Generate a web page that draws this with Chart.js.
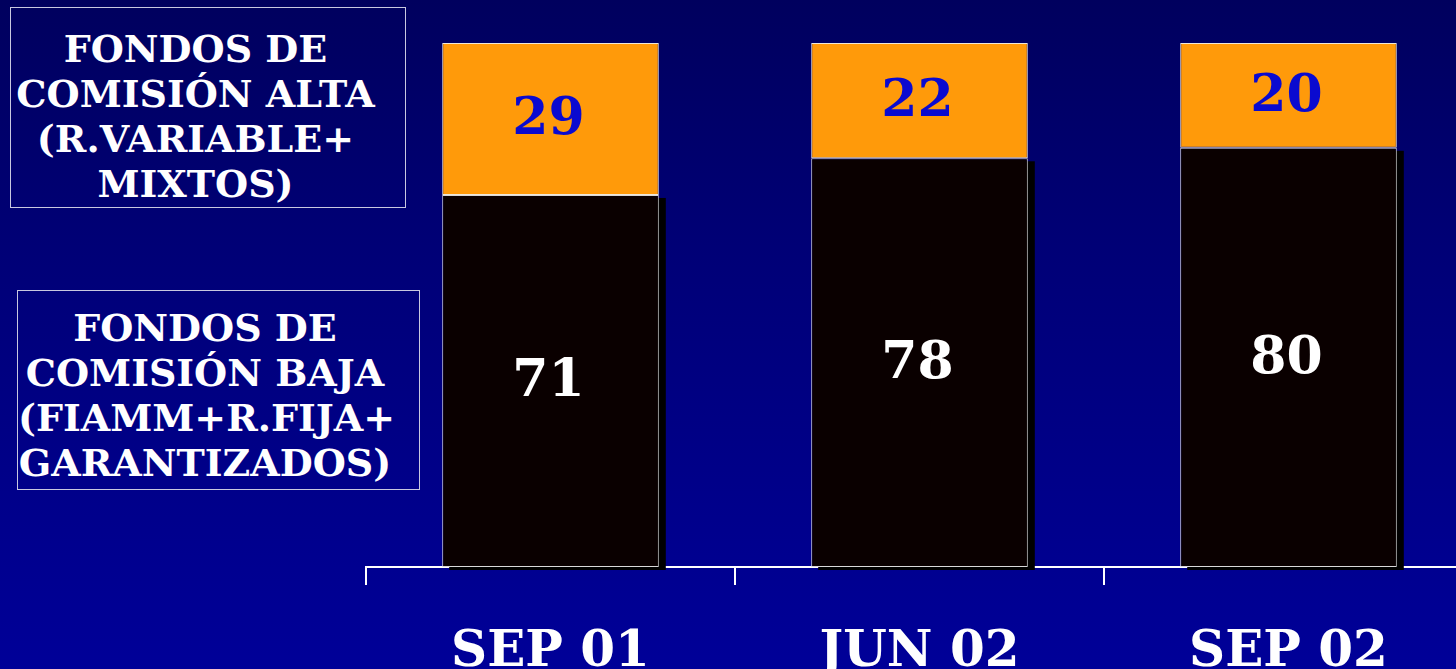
<!DOCTYPE html>
<html>
<head>
<meta charset="utf-8">
<script src="https://cdn.jsdelivr.net/npm/chart.js@4"></script>
<style>
html,body{margin:0;padding:0;width:1456px;height:669px;overflow:hidden;
  background:linear-gradient(to bottom,#00005e 0%,#000078 40%,#000098 100%);}
#wrap{position:absolute;left:0;top:0;width:1473px;height:669px;}
.box{position:absolute;box-sizing:border-box;border:1px solid #c8c8e0;color:#fff;
  font-family:"DejaVu Serif",serif;font-weight:bold;font-size:38px;line-height:45px;
  text-align:center;white-space:nowrap;}
#b1{left:10px;top:7px;width:396px;height:201px;padding:18px 25px 0 0;}
#b2{left:17px;top:290px;width:403px;height:200px;padding:14px 27px 0 0;}
</style>
</head>
<body>
<div class="box" id="b1">FONDOS DE<br>COMISIÓN ALTA<br>(R.VARIABLE+<br>MIXTOS)</div>
<div class="box" id="b2">FONDOS DE<br>COMISIÓN BAJA<br>(FIAMM+R.FIJA+<br>GARANTIZADOS)</div>
<div id="wrap"><canvas id="c"></canvas></div>
<script>
const categories = ["SEP 01", "JUN 02", "SEP 02"];
const lowFeeValues = [71, 78, 80];
const highFeeValues = [29, 22, 20];
const seriesNames = ["Comisión baja", "Comisión alta"];

const shadowPlugin = {
  id: 'shadow',
  beforeDatasetsDraw(chart) {
    const ctx = chart.ctx;
    const meta = chart.getDatasetMeta(0);
    ctx.save();
    ctx.fillStyle = '#000000';
    meta.data.forEach(b => {
      const w = b.width;
      ctx.fillRect(b.x - w / 2 + 7, b.y + 3, w, b.base - b.y);
    });
    ctx.restore();
  }
};

const labelPlugin = {
  id: 'labels',
  afterDatasetsDraw(chart) {
    const ctx = chart.ctx;
    ctx.save();
    ctx.font = 'bold 52px "DejaVu Serif", serif';
    ctx.textAlign = 'center';
    ctx.textBaseline = 'middle';
    chart.data.datasets.forEach((ds, i) => {
      const meta = chart.getDatasetMeta(i);
      ctx.fillStyle = i === 0 ? '#ffffff' : '#0a0ad0';
      meta.data.forEach((b, j) => {
        ctx.fillText(String(ds.data[j]), b.x - 2, (b.y + b.base) / 2 + 2);
      });
    });
    ctx.restore();
  }
};

new Chart(document.getElementById('c'), {
  type: 'bar',
  data: {
    labels: categories,
    datasets: [
      { label: seriesNames[0], data: lowFeeValues, backgroundColor: '#0a0000',
        borderColor: '#d8d8d8', borderWidth: 1, borderSkipped: false },
      { label: seriesNames[1], data: highFeeValues, backgroundColor: '#ff9a0a',
        borderColor: '#f0e8d8', borderWidth: 1, borderSkipped: false }
    ]
  },
  options: {
    responsive: true,
    maintainAspectRatio: false,
    animation: false,
    events: [],
    layout: { padding: { left: 366, top: 43, right: 0, bottom: 0 } },
    datasets: { bar: { categoryPercentage: 1, barPercentage: 0.587 } },
    plugins: { legend: { display: false }, tooltip: { enabled: false } },
    scales: {
      x: {
        stacked: true,
        offset: true,
        z: 1,
        grid: { display: true, drawOnChartArea: false, drawTicks: true, tickLength: 18,
                color: '#ffffff', lineWidth: 2, offset: true },
        border: { display: true, color: '#ffffff', width: 2 },
        ticks: { color: '#ffffff', padding: 38,
                 font: { family: '"DejaVu Serif", serif', weight: 'bold', size: 50 } },
        afterFit: s => { s.height = 102; }
      },
      y: {
        stacked: true, display: false, min: 0, max: 100
      }
    }
  },
  plugins: [shadowPlugin, labelPlugin]
});
</script>
</body>
</html>
